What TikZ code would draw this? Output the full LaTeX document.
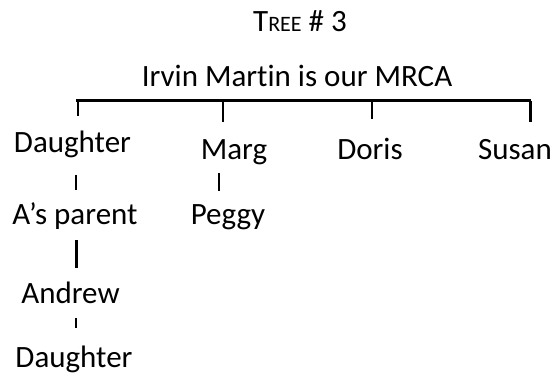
\documentclass[tikz,border=0pt]{standalone}
\usepackage{fontspec}
\setmainfont[Ligatures=NoCommon]{Carlito}
\begin{document}
\begin{tikzpicture}[x=1pt,y=-1pt,
  lbl/.style={anchor=base,inner sep=0pt,font=\fontsize{31}{37}\selectfont},
  bar/.style={line width=2.5pt},
  stub/.style={line width=2pt},
  thickstub/.style={line width=3pt}]
\useasboundingbox (0,0) rectangle (554,382);

% headings
\node[lbl] (title) at (300,31.7) {T{\fontsize{22}{26}\selectfont REE} \# 3};
\node[lbl] (mrca) at (297,86.7) {Irvin Martin is our MRCA};

% first generation
\node[lbl] (d1) at (72.5,153) {Daughter};
\node[lbl] (marg) at (234,160) {Marg};
\node[lbl] (doris) at (370,160) {Doris};
\node[lbl] (susan) at (515,160) {Susan};

% lower generations
\node[lbl] (aparent) at (75,225) {A’s parent};
\node[lbl] (peggy) at (228,225) {Peggy};
\node[lbl] (andrew) at (70.5,303) {Andrew};
\node[lbl] (d2) at (74,367) {Daughter};

% bracket under the MRCA
\coordinate (bl) at (76,100.7);
\coordinate (br) at (531,100.7);
\coordinate (t1) at (78,100.7);
\coordinate (t1e) at (78,116);
\coordinate (t2) at (223,100.7);
\coordinate (t2e) at (223,122);
\coordinate (t3) at (372,100.7);
\coordinate (t3e) at (372,119);
\coordinate (t4) at (530,100.7);
\coordinate (t4e) at (530,122);
\draw[bar] (bl) -- (br);
\draw[stub] (t1) -- (t1e);
\draw[stub] (t2) -- (t2e);
\draw[stub] (t3) -- (t3e);
\draw[thickstub] (t4) -- (t4e);

% descent lines
\coordinate (s1a) at (76,175);
\coordinate (s1b) at (76,190);
\coordinate (s2a) at (219,173);
\coordinate (s2b) at (219,191);
\coordinate (s3a) at (76,240);
\coordinate (s3b) at (76,268);
\coordinate (s4a) at (76,318);
\coordinate (s4b) at (76,328);
\draw[stub] (s1a) -- (s1b);
\draw[stub] (s2a) -- (s2b);
\draw[thickstub] (s3a) -- (s3b);
\draw[stub] (s4a) -- (s4b);
\end{tikzpicture}
\end{document}
